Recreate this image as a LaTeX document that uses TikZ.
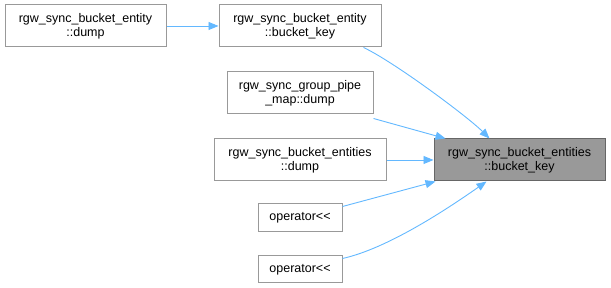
\documentclass[tikz,border=0pt]{standalone}
\usepackage{fontspec}
\setmainfont{Liberation Sans}
\usetikzlibrary{arrows.meta}
\definecolor{edgeblue}{HTML}{63B8FF}
\definecolor{boxborder}{HTML}{999999}
\definecolor{curborder}{HTML}{666666}
\definecolor{curfill}{HTML}{999999}
\newcommand{\shl}{<\kern0pt<}
\begin{document}
\begin{tikzpicture}[x=1pt,y=1pt,
  fn/.style={draw=boxborder, line width=1pt, fill=white, align=center,
    inner sep=0pt, font=\fontsize{12.5}{14}\selectfont, text=black},
  cur/.style={fn, draw=curborder, fill=curfill},
  call/.style={draw=edgeblue, line width=0.9pt,
    -{Triangle[length=10pt,width=8pt,fill=edgeblue]}}]
\useasboundingbox (0,0) rectangle (611,288);
% functions that call the key accessor
\node[fn, minimum width=161pt, minimum height=42pt] (A) at (85.5,262) {rgw\_sync\_bucket\_entity\\::dump};
\node[fn, minimum width=162pt, minimum height=42pt] (B) at (300,262) {rgw\_sync\_bucket\_entity\\::bucket\_key};
\node[fn, minimum width=146pt, minimum height=42pt] (C) at (300,195) {rgw\_sync\_group\_pipe\\\_map::dump};
\node[fn, minimum width=172pt, minimum height=42pt] (D) at (300,128) {rgw\_sync\_bucket\_entities\\::dump};
\node[cur, minimum width=171pt, minimum height=42pt] (E) at (519.5,128) {rgw\_sync\_bucket\_entities\\::bucket\_key};
\node[fn, minimum width=84pt, minimum height=28pt] (F) at (300,70) {operator\shl};
\node[fn, minimum width=84pt, minimum height=27pt] (G) at (300,18.5) {operator\shl};
% call edges
\draw[call] (A.east) -- (B.west);
\draw[call] ([xshift=-18pt]B.south east) .. controls +(30,-14) and +(-22,22) .. ([xshift=-30pt]E.north);
\draw[call] ([yshift=-4pt]C.south east) -- ([xshift=12pt]E.north west);
\draw[call] (D.east) -- (E.west);
\draw[call] ([yshift=-3pt]F.north east) -- ([xshift=2pt]E.south west);
\draw[call] ([yshift=-3pt]G.north east) .. controls +(45,10) and +(-40,-28) .. ([xshift=-33pt]E.south);
\end{tikzpicture}
\end{document}
